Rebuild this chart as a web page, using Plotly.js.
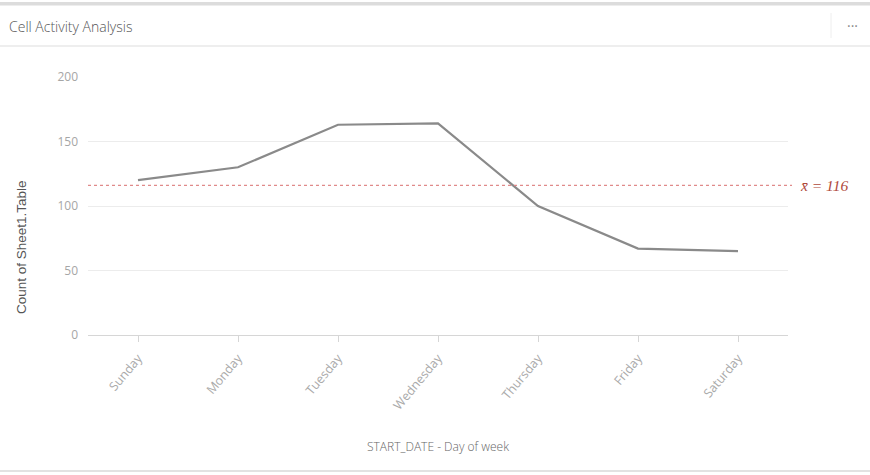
<!DOCTYPE html>
<html>
<head>
<meta charset="utf-8">
<script src="https://cdn.plot.ly/plotly-3.0.1.min.js"></script>
<style>
html,body{margin:0;padding:0;background:#fff;}
#chart{width:870px;height:475px;}
</style>
</head>
<body>
<div id="chart"></div>
<script>
const days = ["Sunday","Monday","Tuesday","Wednesday","Thursday","Friday","Saturday"];
const counts = [120, 130, 163, 164, 100, 67, 65];
const yTicks = [0, 50, 100, 150, 200];

const meanVal = Math.round(counts.reduce((a,b)=>a+b,0)/counts.length);

// pixel helpers for decorative frame (plot area: x 88..788, y 77..335)
const L = 88, W = 700, T = 77, H = 258;
const px = x => (x - L) / W;
const py = y => 1 - (y - T) / H;

const trace = {
  x: days, y: counts, type: 'scatter', mode: 'lines',
  line: {color: '#8a8a8a', width: 2.2},
  hoverinfo: 'x+y'
};

const sans = '"Open Sans", Lato, sans-serif';

const layout = {
  width: 870, height: 475,
  margin: {l: L, r: 870 - L - W, t: T, b: 475 - T - H},
  paper_bgcolor: '#fff', plot_bgcolor: '#fff',
  showlegend: false,
  title: {
    text: 'Cell Activity Analysis',
    font: {family: sans, size: 14, color: '#555', weight: 300},
    x: 9/870, xanchor: 'left', xref: 'container',
    y: 1 - 27/475, yanchor: 'middle', yref: 'container'
  },
  xaxis: {
    type: 'category', range: [-0.5, 6.5],
    showgrid: false, zeroline: false,
    showline: true, linecolor: '#d6d6d6', linewidth: 1,
    ticks: 'outside', ticklen: 6, tickcolor: '#d6d6d6',
    tickangle: -50, ticklabelstandoff: 4,
    tickfont: {family: sans, size: 12.5, color: '#aaaaaa'},
    title: {text: 'START_DATE - Day of week', standoff: 30,
      font: {family: sans, size: 12, color: '#666', weight: 300}}
  },
  yaxis: {
    range: [0, 200], tickvals: yTicks, ticktext: yTicks.map(String),
    showgrid: true, gridcolor: '#ececec', gridwidth: 1,
    zeroline: false, showline: false,
    ticks: '', ticklabelstandoff: 9,
    tickfont: {family: sans, size: 12, color: '#a6a6a6'}
  },
  shapes: [
    // mean line
    {type: 'line', xref: 'paper', yref: 'y', x0: 0, x1: px(792), y0: meanVal, y1: meanVal,
     line: {color: '#e08a8a', width: 1.2, dash: 'dot'}},
    // top border band
    {type: 'rect', xref: 'paper', yref: 'paper', x0: px(0), x1: px(870), y0: py(2), y1: py(5.5),
     fillcolor: '#dcdcdc', line: {width: 0}},
    // header separator
    {type: 'line', xref: 'paper', yref: 'paper', x0: px(0), x1: px(870), y0: py(46), y1: py(46),
     line: {color: '#eeeeee', width: 2}},
    // vertical separator near menu
    {type: 'line', xref: 'paper', yref: 'paper', x0: px(831), x1: px(831), y0: py(13), y1: py(38),
     line: {color: '#eeeeee', width: 1}},
    // bottom border
    {type: 'line', xref: 'paper', yref: 'paper', x0: px(0), x1: px(870), y0: py(471), y1: py(471),
     line: {color: '#e2e2e2', width: 2}}
  ],
  annotations: [
    // y-axis title (placed as in the reference, centred lower than the plot area)
    {xref: 'paper', yref: 'paper', x: px(21), y: py(247), xanchor: 'center', yanchor: 'middle',
     text: 'Count of Sheet1.Table', textangle: -90, showarrow: false,
     font: {family: '"Liberation Sans Narrow", "Liberation Sans", sans-serif', size: 13.5, color: '#555'}},
    {xref: 'paper', yref: 'y', x: px(798), y: meanVal, xanchor: 'left', yanchor: 'middle',
     text: '<i>x̄ = ' + meanVal + '</i>', showarrow: false,
     font: {family: '"Liberation Serif", "DejaVu Serif", serif', size: 15.5, color: '#b04a3c'}},
    {xref: 'paper', yref: 'paper', x: px(852), y: py(25), xanchor: 'center', yanchor: 'middle',
     text: '···', showarrow: false,
     font: {family: sans, size: 14, color: '#888'}}
  ]
};

Plotly.newPlot('chart', [trace], layout, {displayModeBar: false, staticPlot: true});
</script>
</body>
</html>
